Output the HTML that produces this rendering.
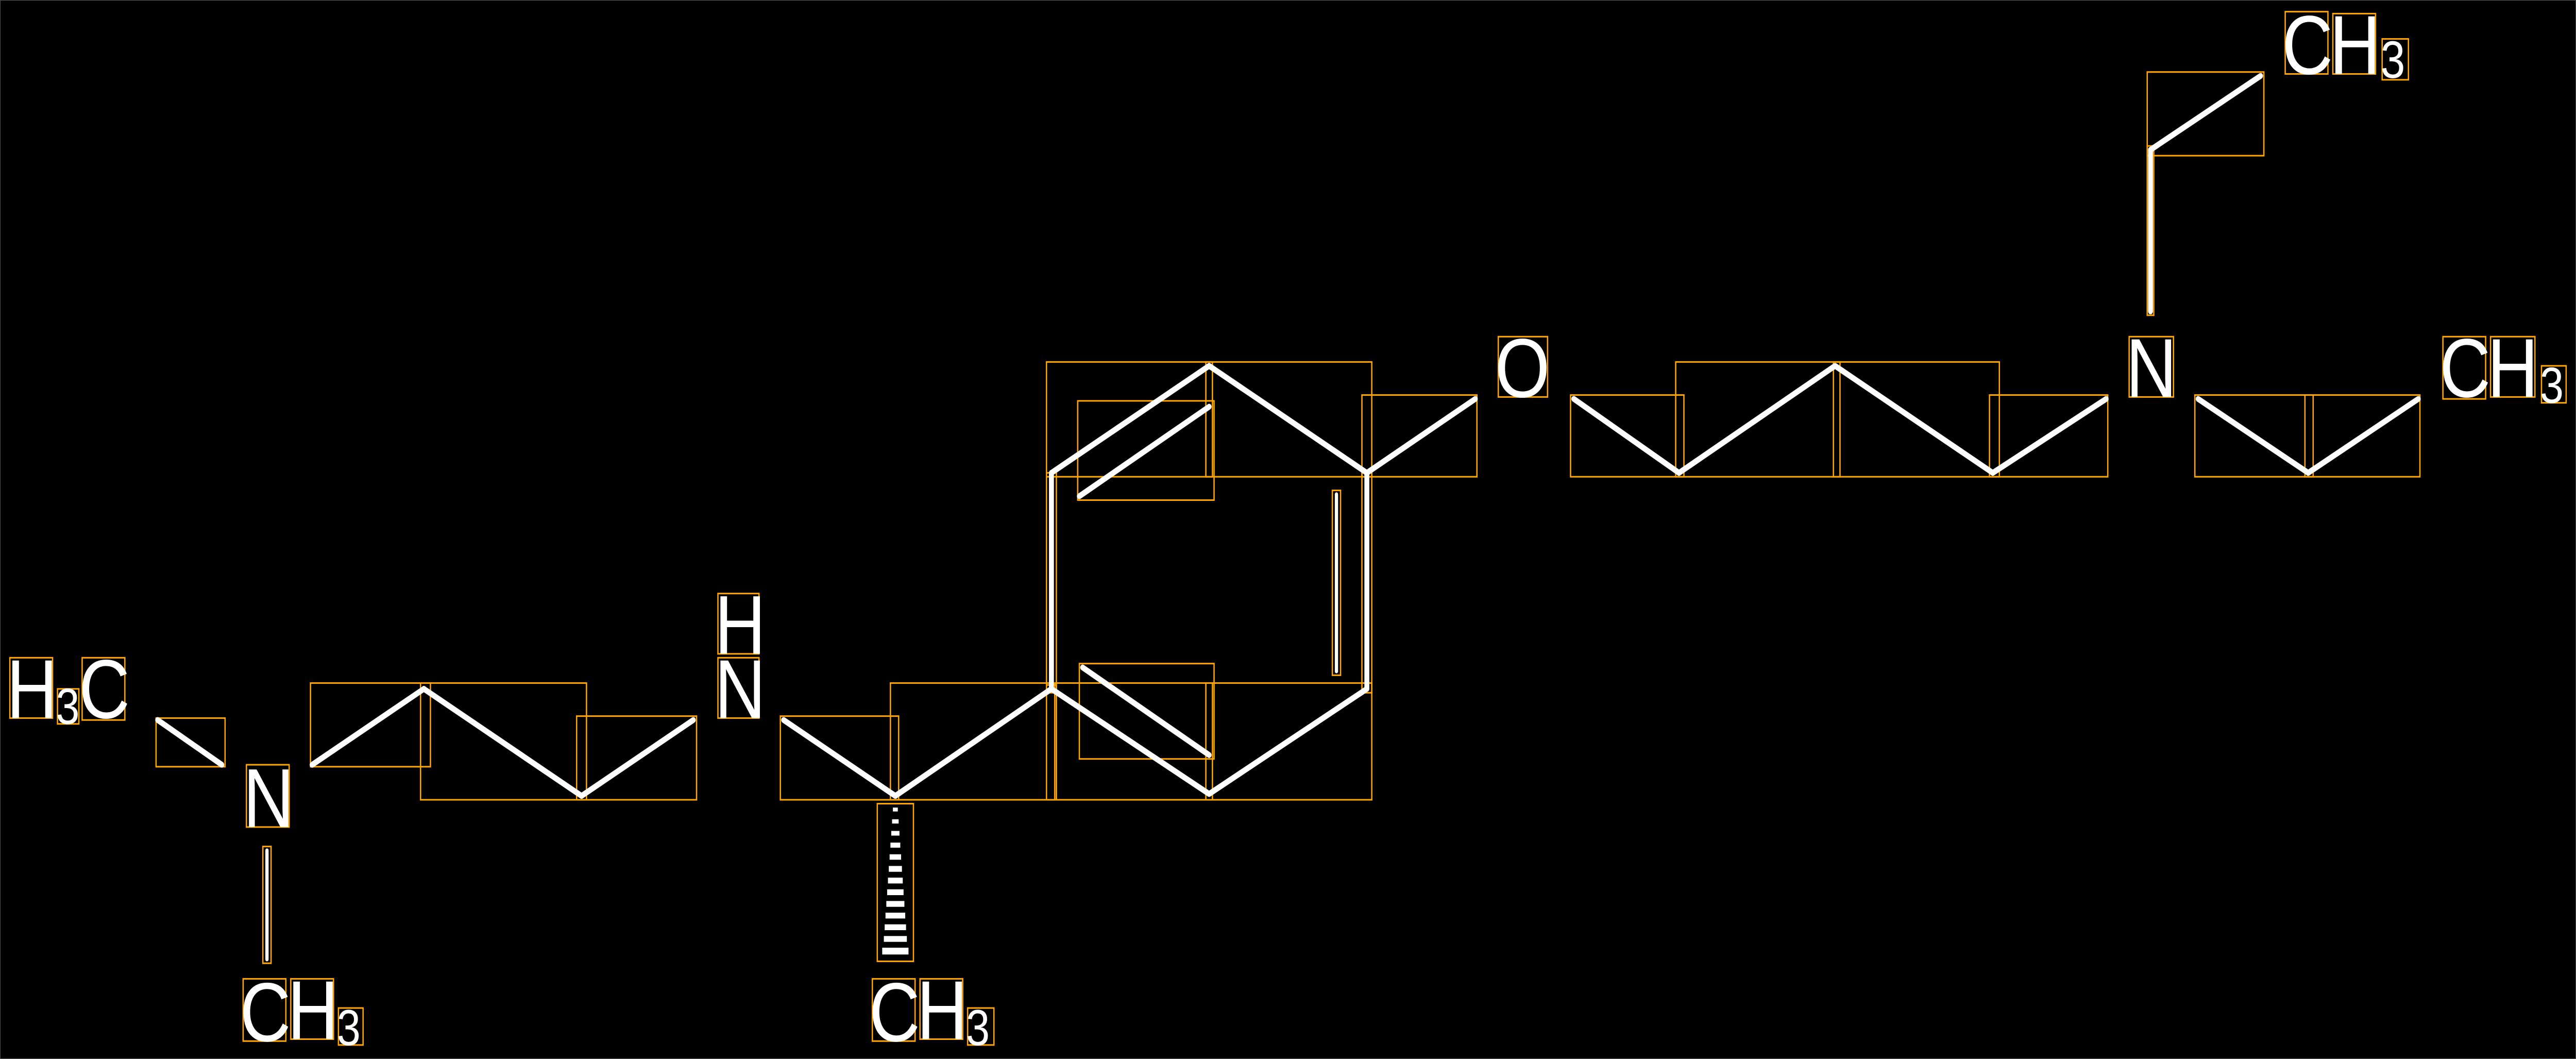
<!DOCTYPE html>
<html><head><meta charset="utf-8"><style>html,body{margin:0;padding:0;background:#000;width:100%;height:100%;overflow:hidden;}svg{display:block;width:100vw;height:100vh;position:fixed;left:0;top:0}</style></head>
<body>
<svg viewBox="0 0 1568 544.2" preserveAspectRatio="none" xmlns="http://www.w3.org/2000/svg">
<rect x="0" y="0" width="1568" height="544.2" fill="#000" stroke="#555" stroke-width="0.6"/>
<g fill="none" stroke="#FFA500" stroke-width="0.8">
<rect x="95" y="369" width="42" height="25"/>
<rect x="189" y="351" width="73" height="43"/>
<rect x="256" y="351" width="101" height="60"/>
<rect x="351" y="368" width="73" height="43"/>
<rect x="160" y="435" width="5" height="60"/>
<rect x="475" y="368" width="72" height="43"/>
<rect x="542" y="351" width="101" height="60"/>
<rect x="534" y="413" width="22" height="81"/>
<rect x="637" y="186" width="198" height="59"/>
<rect x="734" y="186" width="4" height="59"/>
<rect x="656" y="206" width="83" height="51"/>
<rect x="637" y="243" width="6" height="113"/>
<rect x="829" y="243" width="6" height="113"/>
<rect x="811" y="252" width="5" height="95"/>
<rect x="657" y="341" width="82" height="49"/>
<rect x="642" y="351" width="193" height="60"/>
<rect x="637" y="352" width="6" height="59"/>
<rect x="734" y="351" width="4" height="60"/>
<rect x="829" y="203" width="70" height="42"/>
<rect x="956" y="203" width="69" height="42"/>
<rect x="1020" y="186" width="100" height="59"/>
<rect x="1116" y="186" width="101" height="59"/>
<rect x="1211" y="203" width="72" height="42"/>
<rect x="1307" y="75" width="4" height="87"/>
<rect x="1307" y="37" width="71" height="43"/>
<rect x="1336" y="203" width="72" height="42"/>
<rect x="1403" y="203" width="70" height="42"/>
<rect x="6" y="338" width="26" height="31"/><rect x="35" y="354" width="13" height="18"/><rect x="50" y="338" width="26" height="32"/>
<rect x="150" y="393" width="26" height="32"/>
<rect x="148" y="503" width="26" height="32"/><rect x="177" y="503" width="26" height="31"/><rect x="206" y="518" width="15" height="19"/>
<rect x="437" y="305" width="25" height="31"/><rect x="437" y="338" width="25" height="31"/>
<rect x="531" y="503" width="26" height="32"/><rect x="560" y="503" width="26" height="31"/><rect x="589" y="518" width="16" height="19"/>
<rect x="912" y="173" width="30" height="31"/>
<rect x="1296" y="173" width="27" height="31"/>
<rect x="1391" y="6" width="26" height="32"/><rect x="1420" y="7" width="26" height="31"/><rect x="1450" y="20" width="16" height="21"/>
<rect x="1487" y="173" width="26" height="32"/><rect x="1516" y="173" width="27" height="31"/><rect x="1547" y="188" width="15" height="19"/>
</g>
<g stroke="#fff" stroke-width="3" stroke-linecap="round" fill="none">
<line x1="96" y1="370" x2="135" y2="393"/>
<line x1="190" y1="393" x2="258" y2="354"/>
<line x1="258" y1="354" x2="354" y2="409"/>
<line x1="354" y1="409" x2="422" y2="370"/>
<line x1="162.5" y1="437" x2="162.5" y2="493" stroke-width="2"/>
<line x1="477" y1="370" x2="545" y2="409"/>
<line x1="545" y1="409" x2="640" y2="354"/>
<line x1="640" y1="354" x2="640" y2="243"/>
<line x1="640" y1="243" x2="736" y2="188"/>
<line x1="736" y1="188" x2="832" y2="243"/>
<line x1="657" y1="255" x2="736" y2="209"/>
<line x1="832" y1="243" x2="832" y2="354"/>
<line x1="813.5" y1="254" x2="813.5" y2="345" stroke-width="2"/>
<line x1="640" y1="354" x2="736" y2="408"/>
<line x1="659" y1="343" x2="736" y2="388"/>
<line x1="736" y1="408" x2="832" y2="354"/>
<line x1="832" y1="243" x2="898" y2="205"/>
<line x1="958" y1="205" x2="1022" y2="243"/>
<line x1="1022" y1="243" x2="1117" y2="188"/>
<line x1="1117" y1="188" x2="1213" y2="243"/>
<line x1="1213" y1="243" x2="1282" y2="205"/>
<line x1="1309" y1="160" x2="1309" y2="77"/>
<line x1="1309" y1="77" x2="1376" y2="39"/>
<line x1="1338" y1="205" x2="1405" y2="243"/>
<line x1="1405" y1="243" x2="1472" y2="205"/>
</g>
<g fill="#fff">
<rect x="543.5" y="415" width="3" height="2"/>
<rect x="543" y="421" width="4" height="2.2"/>
<rect x="542.5" y="427" width="5" height="2.4"/>
<rect x="542" y="433" width="6" height="2.6"/>
<rect x="541.5" y="439" width="7" height="2.8"/>
<rect x="541" y="445" width="8" height="3"/>
<rect x="540.5" y="451" width="9" height="3"/>
<rect x="540" y="457" width="10" height="3"/>
<rect x="539.5" y="463" width="11" height="3"/>
<rect x="539" y="469" width="12" height="3"/>
<rect x="538.5" y="475" width="13" height="3"/>
<rect x="538" y="481" width="14" height="3"/>
<rect x="537" y="487" width="16" height="3.5"/>
</g>
<g fill="#fff" font-family="Liberation Sans, sans-serif" font-size="43">
<text x="4" y="369">H</text><text x="34" y="372" font-size="26">3</text><text x="48" y="369">C</text>
<text x="148" y="425">N</text>
<text x="146" y="535">C</text><text x="175" y="534">H</text><text x="205" y="537" font-size="26">3</text>
<text x="435" y="336">H</text><text x="435" y="369">N</text>
<text x="529" y="535">C</text><text x="558" y="534">H</text><text x="588" y="537" font-size="26">3</text>
<text x="910" y="204">O</text>
<text x="1294" y="204">N</text>
<text x="1389" y="38">C</text><text x="1418" y="38">H</text><text x="1449" y="40" font-size="27">3</text>
<text x="1485" y="204">C</text><text x="1514" y="204">H</text><text x="1546" y="207" font-size="26">3</text>
</g>
</svg>
</body></html>
